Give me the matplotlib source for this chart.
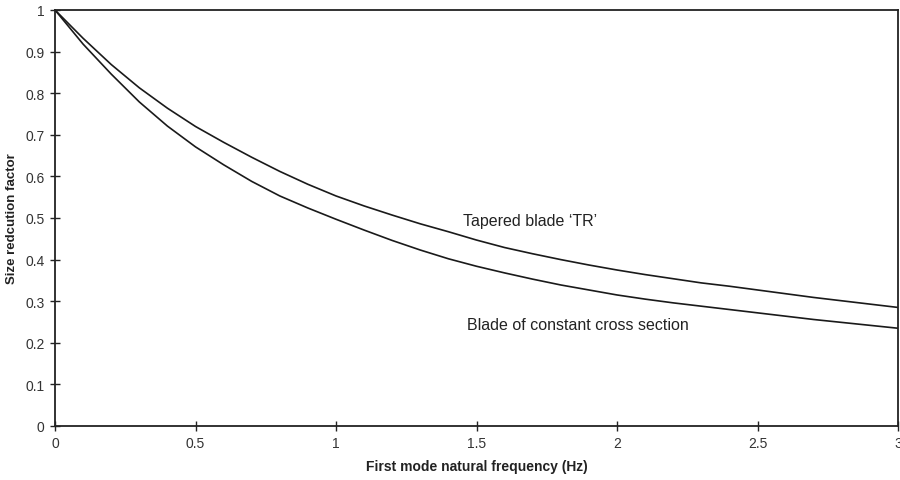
import matplotlib
matplotlib.use("Agg")
import matplotlib.pyplot as plt

plt.rcParams['font.family'] = ['Liberation Sans', 'DejaVu Sans']

freq = [0.0, 0.1, 0.2, 0.3, 0.4, 0.5, 0.6, 0.7, 0.8, 0.9, 1.0,
        1.1, 1.2, 1.3, 1.4, 1.5, 1.6, 1.7, 1.8, 1.9, 2.0,
        2.1, 2.2, 2.3, 2.4, 2.5, 2.6, 2.7, 2.8, 2.9, 3.0]
tapered = [1.000, 0.932, 0.869, 0.813, 0.764, 0.720, 0.682, 0.646, 0.612, 0.581, 0.553,
           0.529, 0.507, 0.486, 0.467, 0.447, 0.429, 0.414, 0.400, 0.387, 0.375,
           0.364, 0.354, 0.344, 0.336, 0.327, 0.318, 0.309, 0.301, 0.293, 0.285]
constant = [1.000, 0.918, 0.846, 0.779, 0.721, 0.671, 0.628, 0.588, 0.553, 0.524, 0.497,
            0.471, 0.446, 0.423, 0.402, 0.384, 0.368, 0.353, 0.339, 0.327, 0.315,
            0.305, 0.296, 0.288, 0.280, 0.272, 0.264, 0.256, 0.249, 0.242, 0.235]

xticks = [0, 0.5, 1, 1.5, 2, 2.5, 3]
xticklabels = ['0', '0.5', '1', '1.5', '2', '2.5', '3']
yticks = [0, 0.1, 0.2, 0.3, 0.4, 0.5, 0.6, 0.7, 0.8, 0.9, 1]
yticklabels = ['0', '0.1', '0.2', '0.3', '0.4', '0.5', '0.6', '0.7', '0.8', '0.9', '1']

fig = plt.figure(figsize=(9, 4.81), dpi=100)
ax = fig.add_axes([55/900, 54/481, 843/900, 416/481])

ax.plot(freq, tapered, color='#1a1a1a', lw=1.2)
ax.plot(freq, constant, color='#1a1a1a', lw=1.2)

ax.set_xlim(0, 3)
ax.set_ylim(0, 1)
ax.set_xticks(xticks)
ax.set_xticklabels(xticklabels)
ax.set_yticks(yticks)
ax.set_yticklabels(yticklabels)
ax.tick_params(direction='inout', length=7, width=1, colors='#222222',
               labelsize=10, labelcolor='#333333')
ax.tick_params(axis='y', pad=4)
ax.tick_params(axis='x', pad=4)
for s in ax.spines.values():
    s.set_color('#222222')
    s.set_linewidth(1.3)

ax.set_xlabel('First mode natural frequency (Hz)', fontsize=10, fontweight='bold',
              color='#222222')
ax.xaxis.set_label_coords(0.5, -0.079)
ax.set_ylabel('Size redcution factor', fontsize=9.5, fontweight='bold',
              color='#222222')
ax.yaxis.set_label_coords(-0.044, 0.5)

ax.text(1.452, 0.493, 'Tapered blade \u2018TR\u2019', fontsize=11.5, color='#222222',
        va='center', ha='left')
ax.text(1.466, 0.245, 'Blade of constant cross section', fontsize=11.5, color='#222222',
        va='center', ha='left')

fig.savefig('out.png', dpi=100)
